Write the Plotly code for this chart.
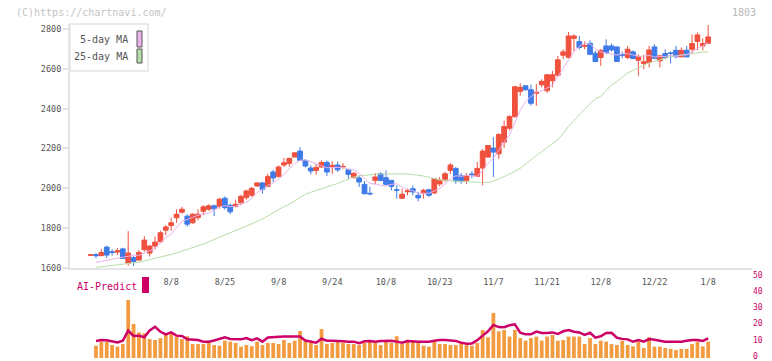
import plotly.graph_objects as go

# ---------------- data ----------------
dates = [
    "2025-07-17", "2025-07-18", "2025-07-22", "2025-07-23", "2025-07-24", "2025-07-25", "2025-07-28", "2025-07-29", "2025-07-30", "2025-07-31",
    "2025-08-01", "2025-08-04", "2025-08-05", "2025-08-06", "2025-08-07", "2025-08-08", "2025-08-12", "2025-08-13", "2025-08-14", "2025-08-15",
    "2025-08-18", "2025-08-19", "2025-08-20", "2025-08-21", "2025-08-22", "2025-08-25", "2025-08-26", "2025-08-27", "2025-08-28", "2025-08-29",
    "2025-09-01", "2025-09-02", "2025-09-03", "2025-09-04", "2025-09-05", "2025-09-08", "2025-09-09", "2025-09-10", "2025-09-11", "2025-09-12",
    "2025-09-16", "2025-09-17", "2025-09-18", "2025-09-19", "2025-09-22", "2025-09-24", "2025-09-25", "2025-09-26", "2025-09-29", "2025-09-30",
    "2025-10-01", "2025-10-02", "2025-10-03", "2025-10-06", "2025-10-07", "2025-10-08", "2025-10-09", "2025-10-10", "2025-10-14", "2025-10-15",
    "2025-10-16", "2025-10-17", "2025-10-20", "2025-10-21", "2025-10-22", "2025-10-23", "2025-10-24", "2025-10-27", "2025-10-28", "2025-10-29",
    "2025-10-30", "2025-10-31", "2025-11-04", "2025-11-05", "2025-11-06", "2025-11-07", "2025-11-10", "2025-11-11", "2025-11-12", "2025-11-13",
    "2025-11-14", "2025-11-17", "2025-11-18", "2025-11-19", "2025-11-20", "2025-11-21", "2025-11-25", "2025-11-26", "2025-11-27", "2025-11-28",
    "2025-12-01", "2025-12-02", "2025-12-03", "2025-12-04", "2025-12-05", "2025-12-08", "2025-12-09", "2025-12-10", "2025-12-11", "2025-12-12",
    "2025-12-15", "2025-12-16", "2025-12-17", "2025-12-18", "2025-12-19", "2025-12-22", "2025-12-23", "2025-12-24", "2025-12-25", "2025-12-26",
    "2025-12-29", "2025-12-30", "2026-01-05", "2026-01-06", "2026-01-07", "2026-01-08",
]

opens = [
    1664, 1667, 1662, 1705, 1682, 1680, 1696, 1625, 1652, 1640,
    1692, 1675, 1710, 1732, 1790, 1813, 1852, 1880, 1860, 1827,
    1853, 1885, 1895, 1912, 1910, 1950, 1915, 1910, 1927, 1953,
    1965, 2012, 2027, 2010, 2082, 2060, 2117, 2125, 2157, 2187,
    2140, 2102, 2090, 2107, 2130, 2110, 2117, 2107, 2095, 2055,
    2052, 2020, 1975, 2040, 2073, 2053, 2040, 1993, 1950, 1983,
    1998, 1965, 1975, 1993, 1977, 2022, 2045, 2090, 2100, 2063,
    2040, 2072, 2060, 2102, 2157, 2202, 2173, 2232, 2302, 2360,
    2487, 2515, 2495, 2477, 2520, 2490, 2540, 2568, 2668, 2657,
    2753, 2737, 2713, 2728, 2678, 2657, 2715, 2715, 2710, 2672,
    2657, 2685, 2643, 2627, 2632, 2710, 2640, 2677, 2680, 2693,
    2660, 2693, 2698, 2737, 2715, 2728,
]
highs = [
    1667, 1675, 1695, 1712, 1695, 1700, 1702, 1785, 1660, 1690,
    1760, 1715, 1757, 1787, 1815, 1853, 1895, 1907, 1870, 1875,
    1895, 1915, 1920, 1918, 1953, 1960, 1923, 1943, 1968, 1993,
    2007, 2032, 2032, 2073, 2093, 2115, 2153, 2155, 2180, 2207,
    2147, 2115, 2123, 2140, 2140, 2135, 2135, 2127, 2098, 2082,
    2065, 2037, 2007, 2077, 2080, 2090, 2040, 2015, 1998, 1998,
    2015, 1982, 1998, 1998, 2052, 2057, 2082, 2127, 2107, 2077,
    2077, 2087, 2132, 2198, 2217, 2257, 2277, 2340, 2367, 2515,
    2527, 2517, 2520, 2523, 2548, 2573, 2590, 2665, 2698, 2785,
    2773, 2765, 2737, 2743, 2690, 2698, 2748, 2727, 2712, 2687,
    2715, 2693, 2673, 2670, 2715, 2723, 2667, 2698, 2687, 2715,
    2707, 2715, 2773, 2782, 2753, 2820,
]
lows = [
    1663, 1650, 1660, 1650, 1662, 1665, 1645, 1612, 1610, 1636,
    1682, 1657, 1692, 1725, 1765, 1787, 1827, 1873, 1807, 1822,
    1840, 1865, 1887, 1860, 1898, 1893, 1870, 1903, 1915, 1943,
    1957, 2007, 1973, 2005, 2032, 2055, 2107, 2108, 2155, 2138,
    2105, 2070, 2068, 2103, 2062, 2073, 2082, 2098, 2048, 2048,
    2007, 1970, 1965, 2020, 2035, 2015, 1990, 1948, 1948, 1965,
    1965, 1935, 1948, 1957, 1972, 2010, 2032, 2073, 2023, 2023,
    2023, 2050, 2057, 2015, 2155, 2057, 2148, 2203, 2290, 2355,
    2465, 2490, 2415, 2415, 2507, 2480, 2507, 2560, 2648, 2653,
    2687, 2698, 2698, 2668, 2632, 2615, 2673, 2687, 2635, 2653,
    2648, 2648, 2565, 2598, 2607, 2648, 2607, 2648, 2627, 2653,
    2660, 2658, 2673, 2693, 2693, 2723,
]
closes = [
    1666, 1662, 1678, 1665, 1678, 1687, 1648, 1675, 1632, 1678,
    1740, 1710, 1730, 1777, 1806, 1827, 1870, 1895, 1820, 1870,
    1870, 1907, 1912, 1897, 1945, 1903, 1882, 1920, 1960, 1987,
    2000, 2027, 1995, 2060, 2052, 2107, 2128, 2150, 2178, 2140,
    2112, 2087, 2105, 2130, 2082, 2115, 2093, 2110, 2070, 2075,
    2032, 1973, 1972, 2057, 2040, 2020, 2010, 1990, 1970, 1987,
    1982, 1952, 1990, 1965, 2048, 2040, 2073, 2117, 2037, 2035,
    2062, 2068, 2100, 2187, 2215, 2182, 2270, 2310, 2360, 2510,
    2507, 2495, 2427, 2482, 2537, 2570, 2570, 2645, 2685, 2765,
    2765, 2707, 2717, 2673, 2637, 2693, 2682, 2695, 2637, 2668,
    2698, 2652, 2660, 2635, 2695, 2653, 2665, 2657, 2677, 2660,
    2693, 2660, 2727, 2770, 2727, 2760,
]

ma5 = [
    None, 1628, 1634, 1640, 1645, 1649, 1654, 1660, 1664, 1664,
    1675, 1687, 1698, 1727, 1753, 1770, 1802, 1835, 1844, 1856,
    1865, 1872, 1876, 1891, 1906, 1913, 1908, 1909, 1922, 1930,
    1950, 1979, 1994, 2014, 2027, 2048, 2068, 2099, 2123, 2141,
    2142, 2133, 2124, 2115, 2103, 2104, 2105, 2106, 2094, 2093,
    2076, 2052, 2024, 2022, 2015, 2012, 2020, 2023, 2006, 1995,
    1988, 1976, 1976, 1975, 1987, 1999, 2023, 2049, 2063, 2060,
    2065, 2064, 2060, 2090, 2126, 2150, 2191, 2233, 2267, 2326,
    2391, 2436, 2460, 2484, 2490, 2502, 2517, 2561, 2601, 2647,
    2686, 2713, 2728, 2725, 2700, 2685, 2680, 2676, 2669, 2675,
    2676, 2670, 2663, 2663, 2668, 2659, 2662, 2661, 2669, 2662,
    2670, 2669, 2683, 2702, 2715, 2729,
]
ma25 = [
    None, 1603, 1606, 1610, 1614, 1617, 1619, 1621, 1624, 1629,
    1636, 1642, 1648, 1654, 1660, 1668, 1676, 1684, 1693, 1702,
    1711, 1721, 1732, 1744, 1754, 1764, 1774, 1785, 1797, 1808,
    1820, 1833, 1846, 1862, 1880, 1895, 1908, 1920, 1935, 1955,
    1970, 1980, 1990, 2000, 2008, 2016, 2024, 2035, 2047, 2057,
    2062, 2066, 2070, 2071, 2072, 2073, 2073, 2073, 2073, 2072,
    2070, 2066, 2062, 2055, 2047, 2042, 2040, 2038, 2036, 2034,
    2032, 2031, 2030, 2029, 2030, 2036, 2046, 2058, 2072, 2085,
    2100, 2120, 2142, 2165, 2185, 2204, 2222, 2244, 2275, 2312,
    2340, 2370, 2398, 2425, 2450, 2462, 2490, 2520, 2535, 2560,
    2580, 2592, 2605, 2618, 2630, 2638, 2646, 2654, 2660, 2665,
    2669, 2673, 2679, 2682, 2684, 2685,
]

volume = [
    None, 7.6, 10.1, 10.1, 8.0, 7.0, 8.6, 35.8, 21.0, 15.8,
    15.2, 11.7, 11.1, 12.3, 14.8, 14.8, 13.2, 11.7, 13.4, 8.6,
    8.6, 8.6, 9.3, 8.0, 7.6, 10.7, 10.1, 9.3, 7.0, 8.0,
    7.3, 10.1, 8.0, 9.3, 9.3, 8.6, 11.1, 9.3, 10.7, 16.7,
    11.3, 9.3, 8.0, 17.9, 8.6, 9.3, 10.7, 9.3, 8.6, 8.6,
    8.0, 9.3, 10.7, 9.3, 8.0, 10.1, 9.3, 13.4, 8.6, 10.7,
    10.1, 9.3, 7.6, 7.0, 10.1, 8.6, 8.6, 8.0, 8.0, 9.3,
    8.0, 7.6, 9.3, 17.3, 12.8, 27.8, 16.5, 17.3, 13.2, 17.3,
    12.3, 10.7, 12.3, 13.2, 10.7, 13.2, 14.2, 10.7, 11.1, 13.2,
    13.2, 13.2, 8.6, 12.3, 8.6, 10.7, 10.1, 8.6, 8.0, 10.7,
    8.0, 7.2, 10.1, 6.2, 12.8, 7.0, 7.0, 6.2, 5.6, 4.9,
    5.6, 5.6, 8.6, 10.1, 7.2, 10.1,
]
ai_predict = [
    None, 10.5, 11.1, 11.0, 10.3, 9.6, 10.7, 16.9, 13.6, 13.8,
    12.8, 17.0, 19.3, 16.2, 14.6, 15.8, 13.8, 13.6, 11.5, 11.5,
    11.1, 10.1, 10.1, 10.8, 11.6, 12.8, 11.7, 11.5, 11.5, 12.3,
    11.0, 12.1, 10.1, 12.6, 12.9, 13.2, 13.2, 13.2, 13.2, 13.2,
    10.8, 10.1, 9.4, 11.9, 10.7, 10.7, 10.7, 10.3, 10.1, 10.1,
    9.1, 10.3, 10.5, 10.1, 10.5, 10.7, 10.7, 10.1, 9.4, 10.5,
    10.1, 10.1, 10.1, 10.1, 10.6, 11.1, 11.1, 11.0, 10.5, 9.5,
    8.8, 9.0, 11.0, 13.8, 16.5, 20.4, 19.1, 19.0, 20.2, 20.8,
    15.6, 14.6, 14.6, 16.3, 15.4, 15.4, 15.8, 14.8, 16.5, 17.3,
    16.2, 15.8, 14.3, 15.6, 12.6, 13.4, 15.5, 15.6, 12.5, 11.8,
    11.5, 10.1, 11.1, 10.1, 11.7, 11.2, 10.5, 10.1, 10.1, 10.1,
    10.1, 10.6, 11.1, 11.1, 10.5, 12.1,
]

tick_dates = ["2025-08-08", "2025-08-25", "2025-09-08", "2025-09-24", "2025-10-08",
              "2025-10-23", "2025-11-07", "2025-11-21", "2025-12-08", "2025-12-22", "2026-01-08"]
tick_labels = ["8/8", "8/25", "9/8", "9/24", "10/8", "10/23", "11/7", "11/21", "12/8", "12/22", "1/8"]
price_ticks = [1600, 1800, 2000, 2200, 2400, 2600, 2800]
predict_ticks = [0, 10, 20, 30, 40, 50]

# ---------------- layout helpers ----------------
W, H = 772, 361
ML, MR, MT, MB = 70, 20, 24, 3
PW, PH = W - ML - MR, H - MT - MB


def fx(px):
    return (px - ML) / PW


def fy(py):
    return (H - MB - py) / PH


MAIN_BOTTOM_PX = 268
SUB_TOP_PX = 277
main_dom = [fy(MAIN_BOTTOM_PX), 1]
sub_dom = [0, fy(SUB_TOP_PX)]
main_h = (MAIN_BOTTOM_PX - MT)


def dy(py):  # y-domain fraction of main plot
    return 1 - (py - MT) / main_h


def dx(px):
    return (px - ML) / PW


idx = list(range(len(dates)))
tick_pos = [dates.index(d) for d in tick_dates]
x_range = [-3.84, 123.16]

RED = "#f0503e"
BLUE = "#3f7be8"
GRID = "#e4e4e4"
MAGENTA = "#cc0066"
FONT = "DejaVu Sans Mono"

fig = go.Figure()
fig.add_trace(go.Scatter(x=idx, y=ma25, mode="lines", line=dict(color="#b7dda8", width=1),
                         name="25-day MA", xaxis="x", yaxis="y", hoverinfo="skip"))
fig.add_trace(go.Scatter(x=idx, y=ma5, mode="lines", line=dict(color="#e9b3ea", width=1),
                         name="5-day MA", xaxis="x", yaxis="y", hoverinfo="skip"))
fig.add_trace(go.Candlestick(
    x=idx, open=opens, high=highs, low=lows, close=closes,
    increasing=dict(line=dict(color=RED, width=1), fillcolor=RED),
    decreasing=dict(line=dict(color=BLUE, width=1), fillcolor=BLUE),
    whiskerwidth=0, xaxis="x", yaxis="y", name="1803"))
fig.add_trace(go.Bar(x=idx, y=volume, marker=dict(color="#f39b40", line=dict(width=0)),
                     xaxis="x2", yaxis="y2", name="volume"))
fig.add_trace(go.Scatter(x=idx, y=ai_predict, mode="lines", line=dict(color=MAGENTA, width=2.5),
                         xaxis="x2", yaxis="y2", name="AI-Predict"))

fig.update_layout(
    width=W, height=H,
    margin=dict(l=ML, r=MR, t=MT, b=MB, autoexpand=False),
    paper_bgcolor="white", plot_bgcolor="white",
    showlegend=False,
    boxgap=0.12, boxgroupgap=0, bargap=0.3,
    font=dict(family=FONT, size=9, color="#555"),
    xaxis=dict(domain=[0, 1], anchor="y", range=x_range, automargin=False,
               rangeslider=dict(visible=False),
               tickmode="array", tickvals=tick_pos, ticktext=tick_labels,
               ticks="", ticklabelstandoff=5,
               tickfont=dict(size=8.5, color="#555", family=FONT),
               showline=True, linecolor=GRID, linewidth=2,
               showgrid=False, zeroline=False),
    xaxis3=dict(overlaying="x", anchor="y", range=[0, 11], tickmode="linear", tick0=0, dtick=1,
                ticks="outside", ticklen=5, tickwidth=2, tickcolor=GRID, automargin=False,
                showticklabels=False, showline=False, showgrid=False, zeroline=False),
    xaxis4=dict(overlaying="x", anchor="y", range=[0, 11], tickmode="linear", tick0=0, dtick=1,
                ticks="inside", ticklen=3, tickwidth=2, tickcolor=GRID, automargin=False,
                showticklabels=False, showline=False, showgrid=False, zeroline=False),
    yaxis=dict(domain=main_dom, anchor="x", range=[1600, 2825], automargin=False,
               tickmode="array", tickvals=price_ticks,
               ticks="outside", ticklen=5, tickwidth=2, tickcolor=GRID,
               tickfont=dict(size=8.5, color="#555", family=FONT),
               showline=True, linecolor=GRID, linewidth=2,
               showgrid=False, zeroline=False),
    xaxis2=dict(domain=[0, 1], anchor="y2", matches="x", showticklabels=False, automargin=False,
                ticks="", showline=False, showgrid=False, zeroline=False),
    yaxis2=dict(domain=sub_dom, anchor="x2", side="right", range=[0, 50], automargin=False,
                tickmode="array", tickvals=predict_ticks, ticks="",
                ticklabeloverflow="allow", ticklabelshift=-2,
                tickfont=dict(size=8, color=MAGENTA, family=FONT),
                showline=False, showgrid=False, zeroline=False),
)

# ---- custom legend (box, labels, swatches) ----
fig.add_shape(type="rect", xref="x domain", yref="y domain",
              x0=0, x1=dx(148), y0=dy(71), y1=1,
              line=dict(color=GRID, width=1.5), fillcolor="white", layer="above")
legend_items = [("5-day MA", "#e9b3ea", 31, 47), ("25-day MA", "#b7dda8", 49, 63)]
for label, color, top, bot in legend_items:
    fig.add_shape(type="rect", xref="x domain", yref="y domain",
                  x0=dx(137), x1=dx(142), y0=dy(bot), y1=dy(top),
                  line=dict(color="#555", width=1), fillcolor=color, layer="above")
    fig.add_annotation(text=label, xref="x domain", yref="y domain",
                       x=dx(130), y=dy((top + bot) / 2), xanchor="right", yanchor="middle",
                       showarrow=False, font=dict(size=10, color="#555", family=FONT))

# ---- header texts ----
fig.add_annotation(text="(C)https://chartnavi.com/", xref="paper", yref="paper",
                   x=fx(14), y=fy(12.5), xanchor="left", yanchor="middle", showarrow=False,
                   font=dict(size=10, color="#c4c4c4", family=FONT))
fig.add_annotation(text="1803", xref="paper", yref="paper",
                   x=fx(758), y=fy(12.5), xanchor="right", yanchor="middle", showarrow=False,
                   font=dict(size=10, color="#b8b8b8", family=FONT))

# ---- AI-Predict label ----
fig.add_annotation(text="AI-Predict", xref="paper", yref="paper",
                   x=fx(75), y=fy(286), xanchor="left", yanchor="middle", showarrow=False,
                   font=dict(size=10, color=MAGENTA, family=FONT))
fig.add_shape(type="rect", xref="paper", yref="paper",
              x0=fx(142), x1=fx(149), y0=fy(293), y1=fy(277),
              line=dict(width=0), fillcolor=MAGENTA)

fig.write_html(
    "out.html",
    config={"displayModeBar": False},
    post_script="document.body.style.margin='0';document.body.style.overflow='hidden';",
)
